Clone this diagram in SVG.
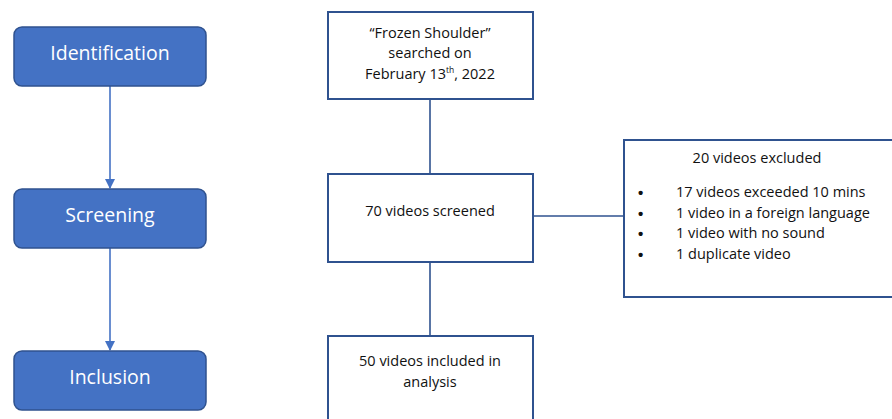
<svg xmlns="http://www.w3.org/2000/svg" width="892" height="419" viewBox="0 0 892 419">
<style>
.phase{fill:#4472C4;stroke:#2F528F;stroke-width:1.5}
.pt{fill:#fff;font-family:"Open Sans","Liberation Sans",sans-serif;font-size:19.5px;text-anchor:middle}
.box{fill:#fff;stroke:#2F528F;stroke-width:2}
.t{fill:#111;font-family:"Open Sans","Liberation Sans",sans-serif;font-size:14.5px}
.b{fill:#111;font-family:"Liberation Sans",sans-serif;font-size:15px;font-weight:bold}
.c{text-anchor:middle}
.ln{stroke:#2F528F;stroke-width:1.6;fill:none}
.ar{stroke:#4472C4;stroke-width:1.6;fill:none}
</style>
<defs>
<marker id="ah" viewBox="0 0 10 10" refX="9" refY="5" markerWidth="6.5" markerHeight="6.5" orient="auto" markerUnits="strokeWidth">
<path d="M0,0 L10,5 L0,10 z" fill="#4472C4"/>
</marker>
</defs>
<g id="connectors">
<line class="ar" x1="110" y1="86" x2="110" y2="188" marker-end="url(#ah)"/>
<line class="ar" x1="110" y1="248" x2="110" y2="350" marker-end="url(#ah)"/>
<line class="ln" x1="430" y1="99" x2="430" y2="174"/>
<line class="ln" x1="430" y1="262" x2="430" y2="336"/>
<line class="ln" x1="533" y1="216" x2="624" y2="216"/>
</g>
<g id="identification">
<rect class="phase" x="14" y="27" width="192" height="59" rx="8"/>
<text class="pt" x="110" y="60">Identification</text>
</g>
<g id="screening">
<rect class="phase" x="14" y="189" width="192" height="59" rx="8"/>
<text class="pt" x="110" y="222">Screening</text>
</g>
<g id="inclusion">
<rect class="phase" x="14" y="351" width="192" height="59" rx="8"/>
<text class="pt" x="110" y="384">Inclusion</text>
</g>
<g id="search">
<rect class="box" x="328" y="12" width="205" height="87"/>
<text class="t c" x="430" y="38">“Frozen Shoulder”</text>
<text class="t c" x="430" y="58">searched on</text>
<text class="t c" x="430" y="79">February 13<tspan font-size="8.5" dy="-6">th</tspan><tspan dy="6">, 2022</tspan></text>
</g>
<g id="screened">
<rect class="box" x="328" y="174" width="205" height="88"/>
<text class="t c" x="430" y="216">70 videos screened</text>
</g>
<g id="included">
<rect class="box" x="328" y="336" width="205" height="90"/>
<text class="t c" x="430" y="366">50 videos included in</text>
<text class="t c" x="430" y="387">analysis</text>
</g>
<g id="excluded">
<rect class="box" x="624" y="140" width="275" height="157"/>
<text class="t c" x="757" y="163">20 videos excluded</text>
<text class="b" x="638" y="198">•</text>
<text class="t" x="676" y="197">17 videos exceeded 10 mins</text>
<text class="b" x="638" y="219">•</text>
<text class="t" x="676" y="218">1 video in a foreign language</text>
<text class="b" x="638" y="239">•</text>
<text class="t" x="676" y="238">1 video with no sound</text>
<text class="b" x="638" y="260">•</text>
<text class="t" x="676" y="259">1 duplicate video</text>
</g>
</svg>
